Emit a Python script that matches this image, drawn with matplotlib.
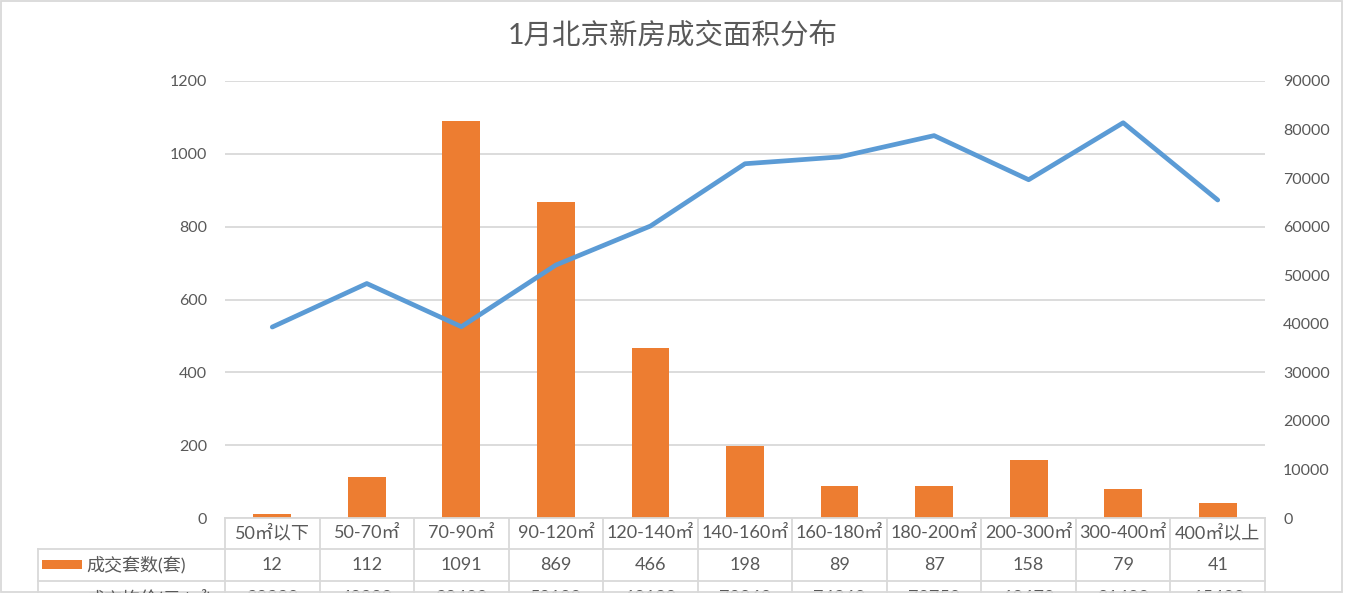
import numpy as np
import matplotlib.pyplot as plt
from matplotlib.lines import Line2D
from matplotlib.patches import Rectangle
from matplotlib.transforms import blended_transform_factory

plt.rcParams['font.family'] = ['Lato', 'Noto Sans CJK SC', 'DejaVu Sans']

# data
areas = ['50㎡以下', '50-70㎡', '70-90㎡', '90-120㎡', '120-140㎡', '140-160㎡',
         '160-180㎡', '180-200㎡', '200-300㎡', '300-400㎡', '400㎡以上']
deals = [12, 112, 1091, 869, 466, 198, 89, 87, 158, 79, 41]
avg_price = [39330, 48290, 39400, 52100, 60130, 72960, 74360, 78750, 69670, 81400, 65490]

title = '1月北京新房成交面积分布'
deals_label = '成交套数(套)'
price_label = '成交均价(元/㎡)'

bar_color = '#ED7D31'
line_color = '#5B9BD5'
grid_color = '#D9D9D9'
text_color = '#595959'

W, H = 1345, 593
fig = plt.figure(figsize=(W / 100, H / 100), dpi=100)


def fx(px):
    return px / W


def fy(py):
    return 1 - py / H


ax = fig.add_axes([fx(225), fy(518), fx(1265) - fx(225), fy(81) - fy(518)])
x = np.arange(len(areas))
ax.bar(x, deals, width=0.4, color=bar_color, zorder=2)
ax.set_xlim(-0.5, len(areas) - 0.5)
ax.set_ylim(0, 1200)
ax.set_yticks(np.arange(0, 1201, 200))
ax.set_xticks([])
ax.yaxis.grid(True, color=grid_color, linewidth=1.3)
ax.set_axisbelow(True)
ax.tick_params(axis='y', length=0, pad=13, labelsize=11.5, labelcolor=text_color)
for s in ax.spines.values():
    s.set_visible(False)

ax2 = ax.twinx()
ax2.plot(x, avg_price, color=line_color, linewidth=3.4, solid_capstyle='round', zorder=3)
ax2.set_ylim(0, 90000)
ax2.set_yticks(np.arange(0, 90001, 10000))
ax2.tick_params(axis='y', length=0, pad=13, labelsize=11.5, labelcolor=text_color)
for s in ax2.spines.values():
    s.set_visible(False)

fig.text(0.5, fy(35), title, ha='center', va='center', fontsize=20.5, color=text_color)

# data table under the plot
bt = blended_transform_factory(ax.transData, fig.transFigure)
row_top = [518, 549, 581, 613]
lw = 1.3
n = len(areas)
# horizontal lines
ax.add_line(Line2D([-0.5, n - 0.5], [fy(518), fy(518)], transform=bt, color=grid_color,
                   lw=lw, clip_on=False))
for py in row_top[1:3]:
    fig.add_artist(Line2D([fx(38), fx(1265)], [fy(py), fy(py)], color=grid_color, lw=lw))
# vertical lines
for i in range(n + 1):
    ax.add_line(Line2D([i - 0.5, i - 0.5], [fy(518), fy(613)], transform=bt,
                       color=grid_color, lw=lw, clip_on=False))
fig.add_artist(Line2D([fx(38), fx(38)], [fy(549), fy(613)], color=grid_color, lw=lw))

for i in range(n):
    ax.text(i, fy(533), areas[i], transform=bt, ha='center', va='center',
            fontsize=13, color=text_color, clip_on=False)
    ax.text(i, fy(565), str(deals[i]), transform=bt, ha='center', va='center',
            fontsize=13, color=text_color, clip_on=False)
    # this row is cut by the bottom edge, as in the original
    ax.text(i, fy(598), str(avg_price[i]), transform=bt, ha='center', va='center',
            fontsize=13, color=text_color, clip_on=False)

# legend keys inside the table
fig.add_artist(Rectangle((fx(42), fy(569)), fx(82) - fx(42), fy(560) - fy(569),
                         color=bar_color, lw=0))
fig.text(fx(86), fy(565), deals_label, ha='left', va='center', fontsize=13, color=text_color)
fig.add_artist(Line2D([fx(42), fx(82)], [fy(597), fy(597)], color=line_color, lw=3.4))
fig.text(fx(86), fy(598), price_label, ha='left', va='center', fontsize=13, color=text_color)

# chart border
fig.add_artist(Rectangle((fx(1), fy(592)), fx(1341), fy(1) - fy(592), fill=False,
                         edgecolor=grid_color, lw=1.3))

fig.savefig('out.png', dpi=100)
